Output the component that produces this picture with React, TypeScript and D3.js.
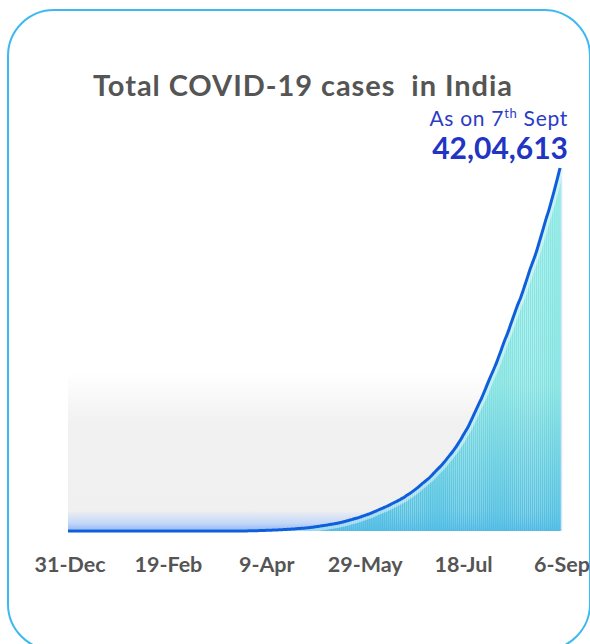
import * as d3 from "d3";
import { useMemo } from "react";

// cumulative confirmed cases, one value per day starting 31-Dec-2019
const dec2019 = [0];
const jan2020 = [0,0,0,0,0,0,0,0,0,0,0,0,0,0,0,0,0,0,0,0,0,0,0,0,0,0,0,0,0,1,1];
const feb2020 = [1,2,3,3,3,3,3,3,3,3,3,3,3,3,3,3,3,3,3,3,3,3,3,3,3,3,3,3,3];
const mar2020 = [3,5,6,28,30,31,34,39,48,63,71,81,91,102,112,126,146,171,198,256,334,403,499,536,657,727,887,987,1024,1251,1397];
const apr2020 = [1998,2543,2567,3082,3588,4778,5311,5916,6725,7598,8446,9205,10453,11487,12322,13430,14352,15722,17615,18539,20080,21370,23077,24530,26283,27890,29451,31324,33062,34863];
const may2020 = [37257,39699,42505,46437,49400,52987,56351,59695,62808,67161,70768,74292,78055,81997,85784,90648,95698,100328,106475,112028,118226,124794,131423,138536,144950,150793,158086,165386,173491,181827,190609];
const jun2020 = [198370,207191,216824,226713,236184,246622,257486,265928,276146,286605,297532,308993,320922,332424,343091,354065,366946,380532,395048,410461,425282,440215,456183,473105,490401,508953,528859,548318,566840,585493];
const jul2020 = [604641,625544,648315,673165,697413,719665,742417,767296,793802,820916,849553,878254,906752,936181,968876,1003832,1038716,1077618,1118043,1155191,1192915,1238635,1287945,1336861,1385522,1435453,1483156,1531669,1583792,1638870,1695988];
const aug2020 = [1750723,1803695,1855745,1908254,1964536,2027074,2088611,2153010,2215074,2268675,2329638,2396637,2461190,2526192,2589682,2647663,2702742,2767273,2836925,2905823,2975701,3044940,3106348,3167323,3234474,3310234,3387500,3463972,3542733,3621245,3691166];
const sep2020 = [3769523,3853406,3936747,4023179,4113811,4204613];

const tickLabels = ["31-Dec", "19-Feb", "9-Apr", "29-May", "18-Jul", "6-Sep"];
const tickDates = ["2019-12-31", "2020-02-19", "2020-04-09", "2020-05-29", "2020-07-18", "2020-09-06"];

const title = "Total COVID-19 cases  in India";
const latestValue = "42,04,613";

export default function App() {
  const W = 590, H = 644;
  const start = new Date(2019, 11, 31);
  const end = new Date(2020, 8, 6);

  const data = useMemo(() => {
    const vals = [...dec2019, ...jan2020, ...feb2020, ...mar2020, ...apr2020, ...may2020, ...jun2020, ...jul2020, ...aug2020, ...sep2020];
    return vals.map((v, i) => ({ date: d3.timeDay.offset(start, i), value: v }));
  }, []);

  const x = d3.scaleTime().domain([start, end]).range([68, 560]);
  const y = d3.scaleLinear().domain([0, d3.max(data, d => d.value)!]).range([531, 168]);

  const step = x(d3.timeDay.offset(start, 1)) - x(start);
  const bw = step * 0.9;

  const line = d3.line<{ date: Date; value: number }>()
    .x(d => x(d.date))
    .y(d => y(d.value))
    .curve(d3.curveMonotoneX);

  const font = "Lato, 'Open Sans', sans-serif";
  const parse = d3.timeParse("%Y-%m-%d");

  return (
    <svg width={W} height={H} style={{ position: "absolute", left: 0, top: 0 }}>
      <defs>
        <linearGradient id="bg" x1="0" y1="0" x2="0" y2="1">
          <stop offset="0" stopColor="#ffffff" />
          <stop offset="0.32" stopColor="#f1f1f1" />
          <stop offset="0.87" stopColor="#f0f0f0" />
          <stop offset="0.95" stopColor="#c4d8f8" />
          <stop offset="1" stopColor="#8fb6f4" />
        </linearGradient>
        <linearGradient id="bar" gradientUnits="userSpaceOnUse" x1="0" y1="168" x2="0" y2="531">
          <stop offset="0" stopColor="#8ce9e4" />
          <stop offset="0.6" stopColor="#82e3e1" />
          <stop offset="1" stopColor="#4dbde3" />
        </linearGradient>
      </defs>

      <rect x={8} y={10} width={582} height={640} rx={46} fill="#fff" stroke="#3db9ef" strokeWidth={2} />

      <text x={93} y={96} textLength={419} lengthAdjust="spacing" fontFamily={font} fontWeight={700} fontSize={29} fill="#555555" xmlSpace="preserve">{title}</text>
      <text x={568} y={126} textAnchor="end" fontFamily={font} fontSize={21} letterSpacing={0.7} fill="#2b3cc6">
        As on 7<tspan fontSize={13} dy={-8}>th</tspan><tspan dy={8}> Sept</tspan>
      </text>
      <text x={568} y={159} textAnchor="end" fontFamily={font} fontWeight={700} fontSize={30} fill="#2234c2">{latestValue}</text>

      <rect x={68} y={372} width={494} height={159} fill="url(#bg)" />

      <g>
        {data.filter(d => d.value > 0).map((d, i) => (
          <rect key={i} x={x(d.date) - bw / 2} y={y(d.value)} width={bw} height={531 - y(d.value)} fill="url(#bar)" />
        ))}
      </g>
      <line x1={561.5} x2={561.5} y1={y(d3.max(data, d => d.value)!)} y2={531} stroke="#cfe6fb" strokeWidth={1.5} />

      <path d={line(data)!} fill="none" stroke="#ffffff" strokeOpacity={0.45} strokeWidth={6} transform="translate(1,1.5)" />
      <path d={line(data)!} fill="none" stroke="#0f5fdc" strokeWidth={3} strokeLinejoin="round" />

      <g fontFamily={font} fontWeight={700} fontSize={21.5} fill="#555555" textAnchor="middle">
        {tickDates.map((t, i) => (
          <text key={t} x={x(parse(t)!) + 2} y={572}>{tickLabels[i]}</text>
        ))}
      </g>
    </svg>
  );
}
